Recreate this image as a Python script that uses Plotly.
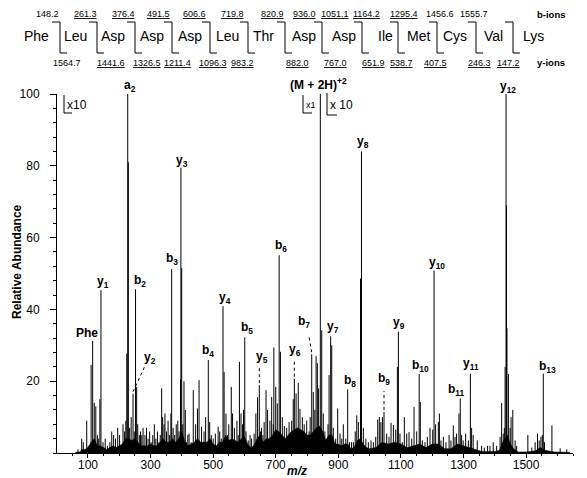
import plotly.graph_objects as go

# ---------------- data ----------------
residues = ["Phe", "Leu", "Asp", "Asp", "Asp", "Leu", "Thr", "Asp", "Asp", "Ile", "Met", "Cys", "Val", "Lys"]
b_ions = ["148.2", "261.3", "376.4", "491.5", "606.6", "719.8", "820.9", "936.0", "1051.1", "1164.2", "1295.4", "1456.6", "1555.7"]
b_seen = [False, True, True, True, True, True, True, True, True, True, True, False, False]
y_ions = ["1564.7", "1441.6", "1326.5", "1211.4", "1096.3", "983.2", "882.0", "767.0", "651.9", "538.7", "407.5", "246.3", "147.2"]
y_seen = [False, True, True, True, True, True, True, True, True, True, True, True, True]

peak_mz = [68, 80, 85, 96, 101, 110, 115, 120, 125, 130, 133, 138, 141.5, 148, 155, 162,
           170, 176, 182, 188, 195, 201, 207, 212, 217, 221, 224, 227, 229, 233, 238, 244, 248,
           252, 255.6, 259, 264, 268, 272, 276, 282, 287, 292, 297, 302, 307, 312, 317, 322, 327, 331,
           335.5, 338.7, 343, 346, 351, 356, 361, 365, 367.5, 372, 377, 382, 387, 391,
           395.7, 397, 399.5, 403, 406.8, 411, 415, 419, 423, 429.5, 436.5, 444, 450, 455, 463, 471,
           476, 484.5, 489, 494, 500, 507, 516, 521, 526, 531.6, 535, 541, 546, 550, 558, 562, 568,
           576, 580, 584, 589, 594, 597, 601, 605, 612, 618, 623, 631, 636.5, 642, 647.5, 651, 654.6,
           659, 663, 669, 674, 681.5, 687, 692, 694, 700, 705, 711, 715, 721, 727.6, 735, 742.7, 751,
           756, 759.5, 765, 772, 777.5, 785, 791, 799, 806.6, 810, 815, 820, 825, 829, 833, 837,
           842.5, 847, 852, 857, 863, 867, 870.5, 875.6, 879, 884, 891.6, 898, 905.6, 911, 916, 924,
           930, 935.8, 942, 948, 954, 959, 964, 971, 974, 980, 988, 996, 1004.5, 1012, 1019.6, 1026,
           1031, 1036, 1041, 1046, 1054.6, 1062, 1068.5, 1076, 1083.5, 1088.7, 1092, 1097, 1104.5,
           1111, 1118.6, 1126, 1134.6, 1142, 1150.5, 1158.5, 1162, 1168.5, 1177, 1184.5, 1193, 1201.7,
           1206, 1211, 1219.7, 1223, 1228, 1235.7, 1244, 1254, 1260, 1267.5, 1273, 1278, 1285.5,
           1289.7, 1294, 1299, 1307, 1315.5, 1322, 1326, 1331, 1344, 1358, 1366.5, 1377, 1384.6,
           1395, 1406, 1417, 1422, 1427, 1430.6, 1433, 1436, 1437.5, 1439, 1443.6, 1449, 1452,
           1457.6, 1465, 1470, 1505.7, 1518.5, 1529, 1536.6, 1542, 1547.5, 1552, 1555, 1559,
           1582.6, 1609, 1630]
peak_int = [1, 4, 3, 9, 2, 24.5, 31.2, 14, 13, 5, 4, 15, 45.4, 3, 4, 2,
            3, 6, 5, 4, 7, 5, 2, 8, 6, 9, 27.7, 100, 81, 7, 10, 16.5, 6,
            45.6, 18.4, 8, 5, 6, 5, 7, 5, 7, 4, 6, 3, 5, 8, 4, 6, 3, 5,
            18, 10, 8, 11, 6, 9, 5, 11, 51.2, 7, 5, 8, 9, 6,
            20.5, 79.5, 51.5, 8, 20, 12, 3, 5, 5.4, 3, 17.5, 8, 12.4, 20.3, 7.3, 6,
            10, 25.9, 8.6, 5, 4, 5.4, 7.3, 6, 4, 40.9, 22.6, 11, 5, 8, 18.4, 11, 7,
            9, 5, 25.4, 11, 8, 12, 32.2, 6, 3.5, 5, 4, 5.4, 11, 15.6, 18.9, 6, 7,
            5, 8.6, 17.5, 12, 9, 15.6, 8, 29.4, 18.4, 13.8, 55.1, 28.2, 10, 7.5, 7, 8.6, 9,
            15, 20.7, 16.6, 19.5, 12.3, 10, 8, 9, 6, 10, 27.5, 17, 12, 27, 25, 18,
            100, 34.2, 11, 6, 4, 8, 21.7, 32.5, 30, 7, 4, 12.4, 5.4, 4, 8, 4,
            17.7, 3, 3, 3, 6, 10.5, 8.6, 48.6, 84, 7, 4, 3, 3.5, 3, 4.5, 9.3,
            10, 8.6, 10, 11.4, 5.4, 4.5, 8.4, 7.8, 6.5, 24, 33.8, 5.4, 3,
            10, 5.4, 5.8, 4, 12.8, 6, 22, 14.2, 3.5, 3, 4.5, 7, 6.5,
            50.8, 8, 8.6, 11, 3.5, 4.5, 3, 5, 3.5, 7.7, 4.5, 5.4, 11,
            15.2, 5, 3.5, 5.4, 3.5, 22.1, 7, 5, 3.5, 2, 1.5, 2, 2,
            3, 2, 4.5, 13.9, 5.4, 7, 24, 100, 69, 34.7, 22, 7, 10,
            12, 3.5, 2, 5, 1.5, 3, 5.4, 3.5, 4.5, 5, 22.1, 3,
            7.7, 1.3, 1]

# unresolved noise floor under the peaks
floor_mz = [60, 75, 80, 90, 100, 110, 120, 130, 140, 150, 160, 170, 180, 190, 200, 210, 220, 230,
            240, 250, 260, 270, 280, 290, 300, 310, 320, 330, 340, 350, 360, 370, 380, 390, 400,
            410, 420, 430, 440, 450, 460, 470, 480, 490, 500, 510, 520, 530, 540, 550, 560, 570,
            580, 590, 600, 610, 620, 630, 640, 650, 660, 670, 680, 690, 700, 710, 720, 730, 740,
            750, 760, 770, 780, 790, 800, 810, 820, 830, 840, 850, 860, 870, 880, 890, 900, 910,
            920, 930, 940, 950, 960, 970, 980, 990, 1000, 1020, 1040, 1060, 1080, 1100, 1120,
            1140, 1160, 1180, 1200, 1220, 1240, 1260, 1280, 1300, 1320, 1340, 1360, 1400, 1415,
            1425, 1440, 1450, 1460, 1475, 1500, 1530, 1545, 1560, 1590, 1640]
floor_int = [0.2, 0.3, 1, 1, 1.5, 3, 4, 2, 2, 1.5, 1, 1.5, 2, 1.5, 2, 2.5, 4, 4,
             3.5, 4, 3, 2, 2, 2, 2.5, 2, 2, 3, 4, 3, 3, 4, 3, 4, 6,
             3, 2, 2.5, 3, 4, 3, 3, 3, 4, 2.5, 2, 3, 3, 5, 3.5, 4, 3.5,
             3, 4, 4.5, 2.5, 1.5, 2, 4, 5, 3, 4, 4, 5, 6.5, 6, 5, 4, 5,
             6, 6.5, 7, 6.5, 6, 5, 5, 6, 7, 7.5, 6, 3.5, 5, 5, 2.5, 2.5, 2,
             2.5, 2.5, 1.2, 1.5, 3.5, 4, 2.5, 1.5, 1.2, 1.5, 3, 2.5, 3, 2.5, 1.5,
             2, 2.5, 1.5, 2.5, 2.5, 1.2, 1.2, 2.5, 2, 1.5, 0.8, 0.4, 0.4, 0.8,
             3, 5, 2.5, 1.2, 0.3, 0.3, 0.6, 1.5, 0.8, 0.3, 0.2]

ion_labels = ["Phe", "y<sub>1</sub>", "a<sub>2</sub>", "b<sub>2</sub>", "y<sub>2</sub>", "b<sub>3</sub>",
              "y<sub>3</sub>", "b<sub>4</sub>", "y<sub>4</sub>", "b<sub>5</sub>", "y<sub>5</sub>",
              "b<sub>6</sub>", "y<sub>6</sub>", "b<sub>7</sub>", "y<sub>7</sub>", "b<sub>8</sub>",
              "(M + 2H)<sup>+2</sup>", "y<sub>8</sub>", "b<sub>9</sub>", "y<sub>9</sub>",
              "b<sub>10</sub>", "y<sub>10</sub>", "b<sub>11</sub>", "y<sub>11</sub>",
              "y<sub>12</sub>", "b<sub>13</sub>"]
ion_mz = [115, 141.5, 227, 252, 244, 367.5, 397, 484.5, 531.6, 601, 647.5, 711, 759.5, 815,
          875.6, 930, 842.5, 974, 1046, 1092, 1158.5, 1206, 1289.7, 1322, 1436, 1555]

x_tick_vals = [100, 300, 500, 700, 900, 1100, 1300, 1500]
y_tick_vals = [20, 40, 60, 80, 100]

# ---------------- layout geometry (pixels) ----------------
W, H = 587, 478
L, R, T, B = 57, 573, 94, 453
XR = [1, 1650]
YR = [0, 100]


def xp(px):
    return (px - L) / (R - L)


def yp(py):
    return (B - py) / (B - T)


def mz_to_px(m):
    return L + (m - XR[0]) / (XR[1] - XR[0]) * (R - L)


def px_to_mz(px):
    return XR[0] + (px - L) / (R - L) * (XR[1] - XR[0])


def int_to_py(v):
    return B - (v - YR[0]) / (YR[1] - YR[0]) * (B - T)


def py_to_int(py):
    return YR[0] + (B - py) / (B - T) * (YR[1] - YR[0])


FONT = "Liberation Sans, Arial, Helvetica, sans-serif"

# peak label offsets (px; dx right, dy up from the peak top)
lbl_dx = [-6, 2, 2, 4, 17, 0, 1, 0, 2, 2, 3, 2, 1, -8, 2, 2, -2, 2, 0, 1, 1, 3, -4, 1, 2, 4]
lbl_dy = [8, 8, 8, 8, 36, 10, 7, 9, 8, 9, 28, 9, 29, 32, 9, 8, 10, 9, 33, 9, 8, 8, 8, 10, 7, 7]
# dotted leaders: label index -> (end dx, end dy) from label centre (px, dy downward)
leaders = {4: (-5, 8), 10: (-3, 11), 12: (-1, 11), 13: (5, 13), 18: (0, 12)}

# header positions (px)
res_x = [36, 75, 113, 152, 190, 227, 263, 304, 344, 385, 418, 455, 493, 533]
brk_x = [60, 97, 135, 172, 210, 248, 285, 322, 362, 398, 437, 476, 513]
b_x = [47, 85, 123, 158, 194, 232, 272, 304, 335, 366, 404, 440, 474]
y_x = [67, 111, 147, 177, 213, 242, 297, 335, 373, 401, 435, 479, 508]
ROW_B, ROW_RES, ROW_Y = 14, 36, 63
BRK_TOP, BRK_BOT = 22, 53

fig = go.Figure()

# noise floor
fig.add_trace(go.Scatter(x=floor_mz, y=floor_int, mode="lines", fill="tozeroy",
                         line=dict(width=0.5, color="black"), fillcolor="black",
                         hoverinfo="skip"))

# stick spectrum
xs, ys = [], []
for m, v in zip(peak_mz, peak_int):
    xs += [m, m, None]
    ys += [0, v, None]
fig.add_trace(go.Scatter(x=xs, y=ys, mode="lines", line=dict(width=1, color="black"),
                         hoverinfo="skip"))

annotations = []
shapes = []

# peak labels
for i, (txt, m) in enumerate(zip(ion_labels, ion_mz)):
    j = min(range(len(peak_mz)), key=lambda k: abs(peak_mz[k] - m))
    v = peak_int[j]
    annotations.append(dict(x=peak_mz[j], y=v, xref="x", yref="y", text=txt, showarrow=False,
                            xanchor="center", yanchor="middle", xshift=lbl_dx[i], yshift=lbl_dy[i],
                            font=dict(family=FONT, size=12, color="black", weight="bold")))
    if i in leaders:
        ex, ey = leaders[i]
        px0 = mz_to_px(peak_mz[j])
        py0 = int_to_py(v) - 2
        lx = px0 + lbl_dx[i]
        ly = int_to_py(v) - lbl_dy[i]
        shapes.append(dict(type="line", xref="x", yref="y",
                           x0=peak_mz[j], y0=py_to_int(py0),
                           x1=px_to_mz(lx + ex), y1=py_to_int(ly + ey),
                           line=dict(color="black", width=1, dash="dot")))

# header: residues
for r, x in zip(residues, res_x):
    annotations.append(dict(x=xp(x), y=yp(ROW_RES), xref="paper", yref="paper", text=r,
                            showarrow=False, xanchor="center", yanchor="middle",
                            font=dict(family=FONT, size=14, color="black")))
for lab, seen, x in zip(b_ions, b_seen, b_x):
    annotations.append(dict(x=xp(x), y=yp(ROW_B), xref="paper", yref="paper",
                            text=("<u>%s</u>" % lab) if seen else lab,
                            showarrow=False, xanchor="center", yanchor="middle",
                            font=dict(family=FONT, size=9, color="black")))
for lab, seen, x in zip(y_ions, y_seen, y_x):
    annotations.append(dict(x=xp(x), y=yp(ROW_Y), xref="paper", yref="paper",
                            text=("<u>%s</u>" % lab) if seen else lab,
                            showarrow=False, xanchor="center", yanchor="middle",
                            font=dict(family=FONT, size=9, color="black")))
annotations.append(dict(x=xp(551), y=yp(ROW_B), xref="paper", yref="paper", text="b-ions",
                        showarrow=False, xanchor="center", yanchor="middle",
                        font=dict(family=FONT, size=9.5, color="black", weight="bold")))
annotations.append(dict(x=xp(551), y=yp(ROW_Y), xref="paper", yref="paper", text="y-ions",
                        showarrow=False, xanchor="center", yanchor="middle",
                        font=dict(family=FONT, size=9.5, color="black", weight="bold")))

# header brackets
for x in brk_x:
    for (xa, ya, xb, yb) in [(x - 8, BRK_TOP, x, BRK_TOP), (x, BRK_TOP, x, BRK_BOT), (x, BRK_BOT, x + 7, BRK_BOT)]:
        shapes.append(dict(type="line", xref="paper", yref="paper",
                           x0=xp(xa), y0=yp(ya), x1=xp(xb), y1=yp(yb),
                           line=dict(color="black", width=1)))

# scale markers
for (vx, vtop, vbot, hlen, txt, fs) in [(64, 95, 113, 8, "x10", 12), (303, 95, 113, 9, "x1", 9),
                                          (327, 93, 115, 10, "x 10", 12)]:
    shapes.append(dict(type="line", xref="paper", yref="paper", x0=xp(vx), y0=yp(vtop),
                       x1=xp(vx), y1=yp(vbot), line=dict(color="black", width=1)))
    shapes.append(dict(type="line", xref="paper", yref="paper", x0=xp(vx), y0=yp(vbot),
                       x1=xp(vx + hlen), y1=yp(vbot), line=dict(color="black", width=1)))
    annotations.append(dict(x=xp(vx + 1), y=yp((vtop + vbot) / 2 + 1), xref="paper", yref="paper",
                            text=txt, showarrow=False, xanchor="left", yanchor="middle",
                            font=dict(family=FONT, size=fs, color="black")))

# axis titles
annotations.append(dict(x=xp(17), y=yp(262), xref="paper", yref="paper", text="Relative Abundance",
                        textangle=-90, showarrow=False, xanchor="center", yanchor="middle",
                        font=dict(family=FONT, size=12, color="black", weight="bold")))
annotations.append(dict(x=xp(297), y=yp(471), xref="paper", yref="paper", text="<i>m/z</i>",
                        showarrow=False, xanchor="center", yanchor="middle",
                        font=dict(family=FONT, size=12, color="black", weight="bold")))

fig.update_layout(
    width=W, height=H,
    margin=dict(l=L, r=W - R, t=T, b=H - B, autoexpand=False),
    paper_bgcolor="white", plot_bgcolor="white",
    showlegend=False,
    annotations=annotations, shapes=shapes,
    xaxis=dict(range=XR, showline=True, linecolor="black", linewidth=1, showgrid=False,
               zeroline=False, ticks="outside", ticklen=4, tickcolor="black",
               tickmode="array", tickvals=x_tick_vals,
               tickfont=dict(family=FONT, size=12, color="black"),
               ticklabelstandoff=-3,
               minor=dict(ticks="outside", ticklen=2, tickcolor="black", tickmode="linear",
                          tick0=0, dtick=50)),
    yaxis=dict(range=YR, showline=True, linecolor="black", linewidth=1, showgrid=False,
               zeroline=False, ticks="outside", ticklen=6, tickcolor="black",
               tickmode="array", tickvals=y_tick_vals,
               tickfont=dict(family=FONT, size=12, color="black"),
               ticklabelstandoff=8,
               minor=dict(ticks="outside", ticklen=3, tickcolor="black", tickmode="linear",
                          tick0=0, dtick=4)),
)

fig.write_html("out.html", config={"displayModeBar": False},
               post_script="document.body.style.margin='0';document.body.style.padding='0';")
